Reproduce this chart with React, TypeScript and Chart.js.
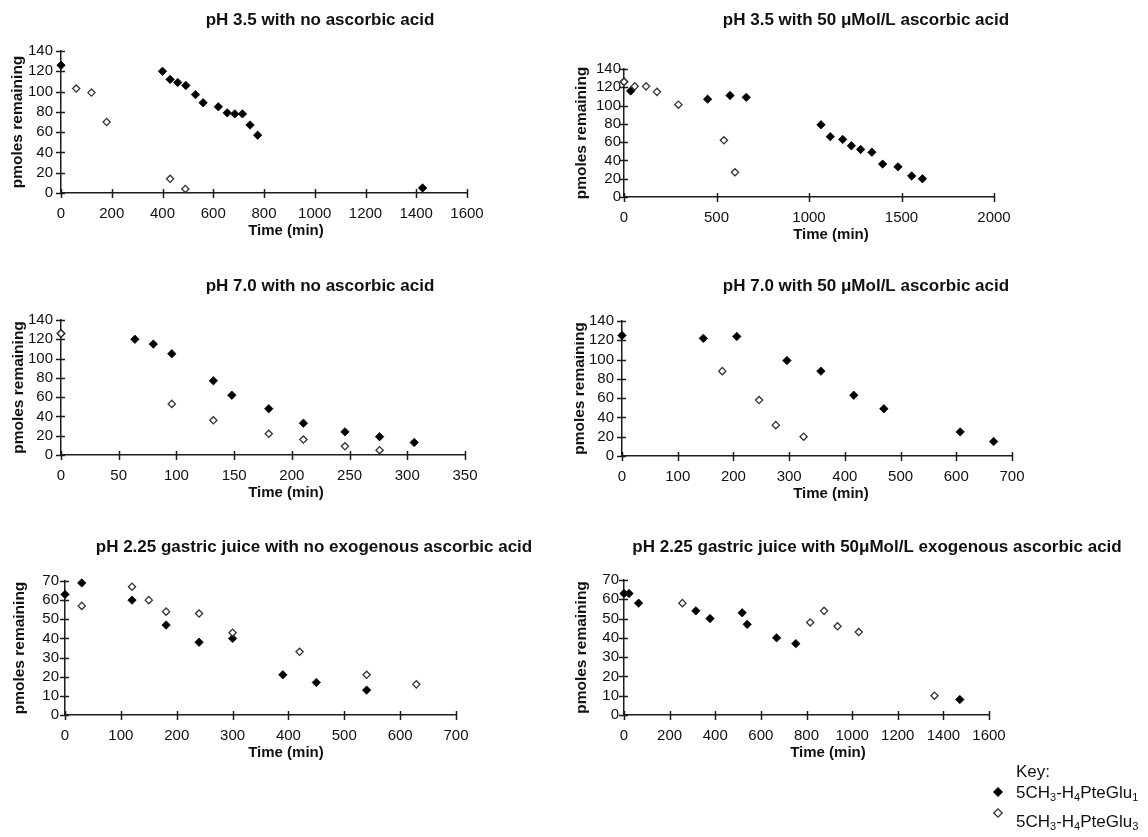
import { useEffect, useRef } from "react";
import { Chart, registerables } from "chart.js";

Chart.register(...registerables);

const SANS = '"Liberation Sans", Arial, Helvetica, sans-serif';
const INK = "#111";
const AXIS = "#1c1c1c";

// pH 3.5, no ascorbic acid
const p1MonoTime = [0, 400, 430, 460, 492, 530, 560, 620, 655, 685, 715, 745, 775, 1425];
const p1MonoPmol = [126, 120, 112, 109, 106, 97, 89, 85, 79, 78, 78, 67, 57, 5];
const p1TriTime = [60, 120, 180, 430, 490];
const p1TriPmol = [103, 99, 70, 14, 4];

// pH 3.5, 50 µmol/L ascorbic acid
const p2MonoTime = [0, 36, 452, 573, 661, 1065, 1115, 1182, 1229, 1279, 1340, 1398, 1481, 1555, 1613];
const p2MonoPmol = [126, 116, 107, 111, 109, 79, 66, 63, 56, 52, 49, 36, 33, 23, 20];
const p2TriTime = [0, 58, 119, 178, 294, 540, 600];
const p2TriPmol = [126, 121, 121, 115, 101, 62, 27];

// pH 7.0, no ascorbic acid
const p3MonoTime = [0, 64, 80, 96, 132, 148, 180, 210, 246, 276, 306];
const p3MonoPmol = [126, 120, 115, 105, 77, 62, 48, 33, 24, 19, 13];
const p3TriTime = [0, 96, 132, 180, 210, 246, 276];
const p3TriPmol = [126, 53, 36, 22, 16, 9, 5];

// pH 7.0, 50 µmol/L ascorbic acid
const p4MonoTime = [0, 146, 206, 296, 357, 416, 470, 607, 667];
const p4MonoPmol = [125, 122, 124, 99, 88, 63, 49, 25, 15];
const p4TriTime = [180, 246, 276, 326];
const p4TriPmol = [88, 58, 32, 20];

// pH 2.25 gastric juice, no exogenous ascorbic acid
const p5MonoTime = [0, 30, 120, 181, 240, 300, 390, 450, 540];
const p5MonoPmol = [63, 69, 60, 47, 38, 40, 21, 17, 13];
const p5TriTime = [30, 120, 150, 181, 240, 300, 420, 540, 629];
const p5TriPmol = [57, 67, 60, 54, 53, 43, 33, 21, 16];

// pH 2.25 gastric juice, 50 µmol/L exogenous ascorbic acid
const p6MonoTime = [0, 22, 64, 315, 377, 518, 540, 669, 753, 1472];
const p6MonoPmol = [63, 63, 58, 54, 50, 53, 47, 40, 37, 8];
const p6TriTime = [256, 816, 877, 936, 1029, 1361];
const p6TriPmol = [58, 48, 54, 46, 43, 10];

const yAxisTitle = "pmoles remaining";
const xAxisTitle = "Time (min)";

type Panel = {
  title: string;
  box: [number, number, number, number]; // canvas left, top, width, height (page px)
  area: [number, number, number, number]; // plot left, top, right, bottom (page px)
  xMax: number;
  xStep: number;
  yMax: number;
  yStep: number;
  yTickPad: number;
  yLabelX: number;
  titleX: number;
  titleY: number;
  timeX: number;
  mono: [number[], number[]];
  tri: [number[], number[]];
  key?: boolean;
};

const panels: Panel[] = [
  {
    title: "pH 3.5 with no ascorbic acid",
    box: [0, 0, 574, 262], area: [61, 51, 467, 193],
    xMax: 1600, xStep: 200, yMax: 140, yStep: 20, yTickPad: 8,
    yLabelX: 18, titleX: 320, titleY: 20, timeX: 286,
    mono: [p1MonoTime, p1MonoPmol], tri: [p1TriTime, p1TriPmol],
  },
  {
    title: "pH 3.5 with 50 \u03bcMol/L ascorbic acid",
    box: [574, 0, 574, 262], area: [624, 69, 994, 197],
    xMax: 2000, xStep: 500, yMax: 140, yStep: 20, yTickPad: 3,
    yLabelX: 582, titleX: 866, titleY: 20, timeX: 831,
    mono: [p2MonoTime, p2MonoPmol], tri: [p2TriTime, p2TriPmol],
  },
  {
    title: "pH 7.0 with no ascorbic acid",
    box: [0, 262, 574, 260], area: [61, 320, 465, 455],
    xMax: 350, xStep: 50, yMax: 140, yStep: 20, yTickPad: 8,
    yLabelX: 19, titleX: 320, titleY: 286, timeX: 286,
    mono: [p3MonoTime, p3MonoPmol], tri: [p3TriTime, p3TriPmol],
  },
  {
    title: "pH 7.0 with 50 \u03bcMol/L ascorbic acid",
    box: [574, 262, 574, 260], area: [622, 321, 1012, 456],
    xMax: 700, xStep: 100, yMax: 140, yStep: 20, yTickPad: 8,
    yLabelX: 580, titleX: 866, titleY: 286, timeX: 831,
    mono: [p4MonoTime, p4MonoPmol], tri: [p4TriTime, p4TriPmol],
  },
  {
    title: "pH 2.25 gastric juice with no exogenous ascorbic acid",
    box: [0, 522, 574, 315], area: [65, 581, 456, 715],
    xMax: 700, xStep: 100, yMax: 70, yStep: 10, yTickPad: 6,
    yLabelX: 20, titleX: 314, titleY: 547, timeX: 286,
    mono: [p5MonoTime, p5MonoPmol], tri: [p5TriTime, p5TriPmol],
  },
  {
    title: "pH 2.25 gastric juice with 50\u03bcMol/L exogenous ascorbic acid",
    box: [574, 522, 574, 315], area: [624, 580, 989, 715],
    xMax: 1600, xStep: 200, yMax: 70, yStep: 10, yTickPad: 5,
    yLabelX: 582, titleX: 877, titleY: 547, timeX: 828,
    mono: [p6MonoTime, p6MonoPmol], tri: [p6TriTime, p6TriPmol],
    key: true,
  },
];

const zip = (xs: number[], ys: number[]) => xs.map((x, i) => ({ x, y: ys[i] }));
const plainNumber = (v: number | string) => String(v);

// Chemical label with subscripts: [text, isSubscript]
const keyMono: [string, boolean][] = [["5CH", false], ["3", true], ["-H", false], ["4", true], ["PteGlu", false], ["1", true]];
const keyTri: [string, boolean][] = [["5CH", false], ["3", true], ["-H", false], ["4", true], ["PteGlu", false], ["3", true]];

function drawChem(ctx: CanvasRenderingContext2D, x: number, y: number, parts: [string, boolean][]) {
  let cx = x;
  ctx.textAlign = "left";
  ctx.textBaseline = "middle";
  for (const [t, sub] of parts) {
    ctx.font = sub ? `11px ${SANS}` : `17px ${SANS}`;
    ctx.fillText(t, cx, sub ? y + 5 : y);
    cx += ctx.measureText(t).width;
  }
}

function diamond(ctx: CanvasRenderingContext2D, x: number, y: number, r: number, filled: boolean) {
  ctx.beginPath();
  ctx.moveTo(x - r, y);
  ctx.lineTo(x, y - r);
  ctx.lineTo(x + r, y);
  ctx.lineTo(x, y + r);
  ctx.closePath();
  if (filled) {
    ctx.fillStyle = "#000";
    ctx.fill();
  } else {
    ctx.fillStyle = "#fff";
    ctx.fill();
    ctx.lineWidth = 1.3;
    ctx.strokeStyle = "#333";
    ctx.stroke();
  }
}

function PanelChart({ p }: { p: Panel }) {
  const ref = useRef<HTMLCanvasElement | null>(null);

  useEffect(() => {
    const canvas = ref.current;
    if (!canvas) return;
    const [bx, by, bw, bh] = p.box;
    const [al, at, ar, ab] = p.area;

    const decorations = {
      id: "panelDecorations",
      beforeDatasetsDraw(chart: Chart) {
        const { ctx, chartArea } = chart;
        const xs = chart.scales.x;
        const ys = chart.scales.y;
        ctx.save();
        ctx.strokeStyle = AXIS;
        ctx.lineWidth = 1.5;
        ctx.beginPath();
        for (let v = 0; v <= p.xMax + 1e-9; v += p.xStep) {
          const px = Math.round(xs.getPixelForValue(v)) + 0.5;
          ctx.moveTo(px, chartArea.bottom - 4);
          ctx.lineTo(px, chartArea.bottom + 5);
        }
        for (let v = 0; v <= p.yMax + 1e-9; v += p.yStep) {
          const py = Math.round(ys.getPixelForValue(v)) + 0.5;
          ctx.moveTo(chartArea.left - 5, py);
          ctx.lineTo(chartArea.left + 4, py);
        }
        ctx.stroke();
        ctx.restore();
      },
      afterDraw(chart: Chart) {
        const { ctx, chartArea } = chart;
        ctx.save();
        ctx.fillStyle = INK;
        ctx.textAlign = "center";
        ctx.textBaseline = "middle";
        ctx.font = `bold 17px ${SANS}`;
        ctx.fillText(p.title, p.titleX - bx, p.titleY - by);
        ctx.font = `bold 15px ${SANS}`;
        ctx.fillText(xAxisTitle, p.timeX - bx, chartArea.bottom + 38);
        ctx.font = `bold 15.5px ${SANS}`;
        ctx.save();
        ctx.translate(p.yLabelX - bx, (chartArea.top + chartArea.bottom) / 2);
        ctx.rotate(-Math.PI / 2);
        ctx.fillText(yAxisTitle, 0, 0);
        ctx.restore();

        if (p.key) {
          ctx.fillStyle = INK;
          ctx.textAlign = "left";
          ctx.font = `17px ${SANS}`;
          ctx.fillText("Key:", 1016 - bx, 772 - by);
          diamond(ctx, 998 - bx, 792 - by, 5, true);
          ctx.fillStyle = INK;
          drawChem(ctx, 1016 - bx, 793 - by, keyMono);
          diamond(ctx, 998 - bx, 813 - by, 4.2, false);
          ctx.fillStyle = INK;
          drawChem(ctx, 1016 - bx, 822 - by, keyTri);
        }
        ctx.restore();
      },
    };

    const chart = new Chart(canvas, {
      type: "scatter",
      data: {
        datasets: [
          {
            label: "5CH3-H4PteGlu3",
            data: zip(p.tri[0], p.tri[1]),
            order: 0,
            pointStyle: "rectRot",
            pointRadius: 3.6,
            pointBackgroundColor: "#fff",
            pointBorderColor: "#333",
            pointBorderWidth: 1.3,
            showLine: false,
            clip: false,
          },
          {
            label: "5CH3-H4PteGlu1",
            data: zip(p.mono[0], p.mono[1]),
            order: 1,
            pointStyle: "rectRot",
            pointRadius: 4.2,
            pointBackgroundColor: "#000",
            pointBorderColor: "#000",
            pointBorderWidth: 0.8,
            showLine: false,
            clip: false,
          },
        ],
      },
      options: {
        animation: false,
        responsive: false,
        maintainAspectRatio: false,
        events: [],
        layout: { padding: { left: 0, top: at - by, right: bx + bw - ar, bottom: 0 } },
        plugins: {
          legend: { display: false },
          title: { display: false },
          tooltip: { enabled: false },
        },
        scales: {
          x: {
            type: "linear",
            min: 0,
            max: p.xMax,
            grid: { display: false, drawTicks: false },
            border: { display: true, color: AXIS, width: 1.5 },
            ticks: {
              stepSize: p.xStep,
              autoSkip: false,
              maxRotation: 0,
              padding: 12,
              color: INK,
              font: { family: SANS, size: 15 },
              callback: plainNumber,
            },
            afterFit: (s: any) => {
              s.height = by + bh - ab;
            },
          },
          y: {
            type: "linear",
            min: 0,
            max: p.yMax,
            grid: { display: false, drawTicks: false },
            border: { display: true, color: AXIS, width: 1.5 },
            ticks: {
              stepSize: p.yStep,
              autoSkip: false,
              padding: p.yTickPad,
              color: INK,
              font: { family: SANS, size: 15 },
              callback: plainNumber,
            },
            afterFit: (s: any) => {
              s.width = al - bx;
            },
          },
        },
      },
      plugins: [decorations],
    });

    return () => chart.destroy();
  }, [p]);

  const [bx, by, bw, bh] = p.box;
  return (
    <canvas
      ref={ref}
      width={bw}
      height={bh}
      style={{ position: "absolute", left: bx, top: by, width: bw, height: bh }}
    />
  );
}

export default function App() {
  return (
    <div
      style={{
        position: "absolute",
        left: 0,
        top: 0,
        width: 1148,
        height: 837,
        background: "#fff",
        overflow: "hidden",
      }}
    >
      {panels.map((p, i) => (
        <PanelChart key={i} p={p} />
      ))}
    </div>
  );
}
